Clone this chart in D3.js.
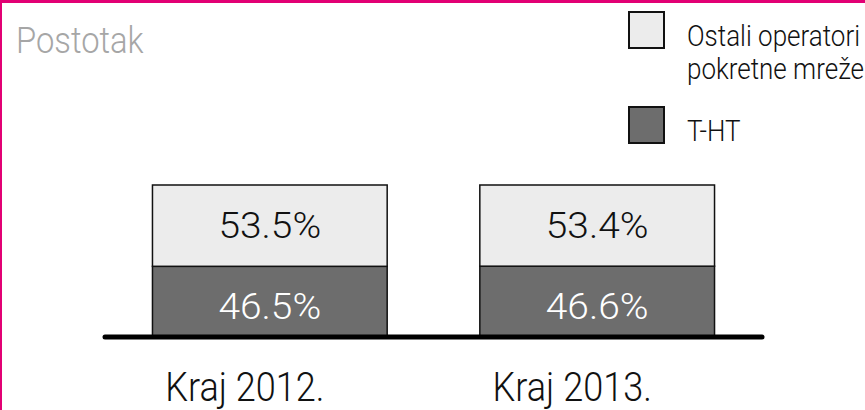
<!DOCTYPE html>
<html>
<head>
<meta charset="utf-8">
<script src="https://cdn.jsdelivr.net/npm/d3@7"></script>
<style>
	body { margin: 0; background: #fff; }
	text { font-family: Roboto, "Liberation Sans", sans-serif; font-weight: 300; }
</style>
</head>
<body>
<div id="chart-area"></div>
<script>
// DATA
var categories = ["Kraj 2012.", "Kraj 2013."];
var seriesNames = ["T-HT", "Ostali operatori pokretne mreže"];
var thtValues = [46.5, 46.6];
var otherValues = [53.5, 53.4];
var legendLines = [["Ostali operatori", "pokretne mreže"], ["T-HT"]];

var width = 865, height = 410;
var colors = { tht: "#6d6d6d", other: "#ececec", magenta: "#e20074" };

var svg = d3.select("#chart-area")
	.append("svg")
	.attr("width", width)
	.attr("height", height);

// FRAME (top + left magenta edge)
svg.append("rect").attr("x", 0).attr("y", 0).attr("width", width).attr("height", 3).attr("fill", colors.magenta);
svg.append("rect").attr("x", 0).attr("y", 0).attr("width", 2).attr("height", height).attr("fill", colors.magenta);

// stretch / squeeze text to match the corporate font's widths
function condense(sel, factor) {
	sel.each(function () {
		var len = this.getComputedTextLength();
		d3.select(this).attr("textLength", len * factor).attr("lengthAdjust", "spacingAndGlyphs");
	});
}

// SCALES
var x = d3.scaleBand()
	.domain(categories)
	.range([105, 762])
	.paddingInner(0.283)
	.paddingOuter(0.145);

var y = d3.scaleLinear()
	.domain([0, 100])
	.range([337, 185]);

var stackData = categories.map(function (c, i) {
	return { cat: c, tht: thtValues[i], other: otherValues[i] };
});
var stack = d3.stack().keys(["tht", "other"])(stackData);

// BARS
var layers = svg.selectAll("g.layer")
	.data(stack)
	.enter().append("g")
	.attr("class", "layer");

layers.selectAll("rect")
	.data(function (d) { return d.map(function (p) { return { key: d.key, p: p }; }); })
	.enter().append("rect")
	.attr("x", function (d) { return x(d.p.data.cat); })
	.attr("width", x.bandwidth())
	.attr("y", function (d) { return y(d.p[1]); })
	.attr("height", function (d) { return y(d.p[0]) - y(d.p[1]); })
	.attr("fill", function (d) { return colors[d.key]; })
	.attr("stroke", "#111")
	.attr("stroke-width", 1.5);

// VALUE LABELS
layers.selectAll("text")
	.data(function (d) { return d.map(function (p) { return { key: d.key, p: p }; }); })
	.enter().append("text")
	.attr("x", function (d) { return x(d.p.data.cat) + x.bandwidth() / 2; })
	.attr("y", function (d) {
		return (y(d.p[0]) + y(d.p[1])) / 2 + (d.key === "tht" ? 17.5 : 12.5);
	})
	.attr("text-anchor", "middle")
	.attr("font-size", "36px")
	.attr("fill", function (d) { return d.key === "tht" ? "#fff" : "#111"; })
	.text(function (d) { return d3.format(".1f")(d.p[1] - d.p[0]) + "%"; })
	.call(condense, 1.08);

// BASELINE
svg.append("line")
	.attr("x1", x.range()[0])
	.attr("x2", x.range()[1])
	.attr("y1", y(0))
	.attr("y2", y(0))
	.attr("stroke", "#000")
	.attr("stroke-width", 5)
	.attr("stroke-linecap", "round");

// CATEGORY LABELS
svg.selectAll("text.cat")
	.data(categories)
	.enter().append("text")
	.attr("class", "cat")
	.attr("x", function (d) { return x(d) + x.bandwidth() / 2 - 25; })
	.attr("y", 401)
	.attr("text-anchor", "middle")
	.attr("font-size", "41px")
	.attr("fill", "#111")
	.text(function (d) { return d; })
	.call(condense, 0.88);

// AXIS TITLE
svg.append("text")
	.attr("x", 16)
	.attr("y", 53)
	.attr("font-size", "36px")
	.attr("fill", "#a6a6a6")
	.text("Postotak")
	.call(condense, 0.91);

// LEGEND
var legendFill = [colors.other, colors.tht];
var legendY = [12, 107];
var legend = svg.selectAll("g.legend")
	.data(legendLines)
	.enter().append("g")
	.attr("class", "legend")
	.attr("transform", function (d, i) { return "translate(629," + legendY[i] + ")"; });

legend.append("rect")
	.attr("width", 35)
	.attr("height", 36)
	.attr("fill", function (d, i) { return legendFill[i]; })
	.attr("stroke", "#111")
	.attr("stroke-width", 2);

var legendText = legend.selectAll("text")
	.data(function (d) { return d; })
	.enter().append("text")
	.attr("x", 58)
	.attr("y", function (d, j) { return 34 + j * 33; })
	.attr("font-size", "29px")
	.attr("fill", "#111")
	.text(function (d) { return d; });

// squeeze so the first legend line spans the same width as in the reference
var firstLen = legendText.node().getComputedTextLength();
legendText.call(condense, 173 / firstLen);
</script>
</body>
</html>
